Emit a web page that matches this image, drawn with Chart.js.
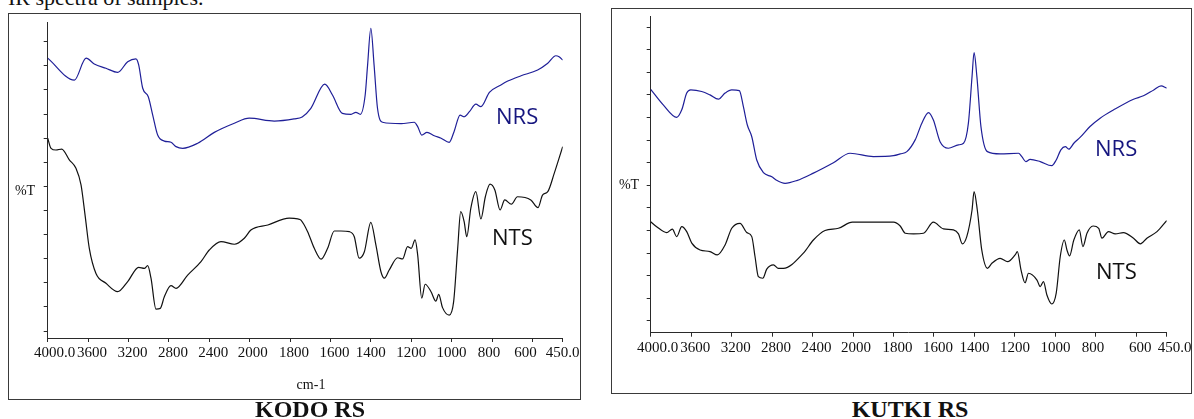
<!DOCTYPE html>
<html>
<head>
<meta charset="utf-8">
<title>IR spectra of samples</title>
<script src="https://cdn.jsdelivr.net/npm/chart.js@4.4.1/dist/chart.umd.min.js"></script>
<style>
  html, body { margin: 0; padding: 0; background: #fff; }
  body { position: relative; width: 1194px; height: 419px; overflow: hidden;
         font-family: "Liberation Serif", "Times New Roman", serif; color: #111; }
  .frame { position: absolute; box-sizing: border-box; border: 1px solid #3a3a3a; }
  canvas { position: absolute; }
  .lbl { position: absolute; white-space: nowrap; }
  .series { font-family: "Open Sans", sans-serif; font-size: 22px; line-height: 22px; }
  .pct { font-size: 14px; line-height: 14px; transform: translate(-50%, -50%); }
  .caption { font-weight: bold; font-size: 24px; line-height: 24px; transform: translateX(-50%); }
</style>
</head>
<body>
<div class="lbl" style="left:8px; top:-13px; font-size:22px; line-height:22px;">IR spectra of samples.</div>

<div class="frame" style="left:8px; top:13px; width:573px; height:387px;"></div>
<div class="frame" style="left:611px; top:8px; width:581px; height:386px;"></div>

<canvas id="kodo" width="581" height="385" style="left:9px; top:14px;"></canvas>
<canvas id="kutki" width="582" height="384" style="left:612px; top:9px;"></canvas>

<div class="lbl pct" style="left:25px; top:191px;">%T</div>
<div class="lbl pct" style="left:629px; top:185px;">%T</div>
<div class="lbl pct" style="left:311px; top:385px;">cm-1</div>

<div class="lbl series" style="left:496px; top:104px; color:#16167f;">NRS</div>
<div class="lbl series" style="left:492px; top:225px; color:#111;">NTS</div>
<div class="lbl series" style="left:1095px; top:136px; color:#16167f;">NRS</div>
<div class="lbl series" style="left:1096px; top:259px; color:#111;">NTS</div>

<div class="lbl caption" style="left:310px; top:397px;">KODO RS</div>
<div class="lbl caption" style="left:910px; top:397px;">KUTKI RS</div>

<script>
// x axis, cm-1
const X_TICKS = [4000, 3600, 3200, 2800, 2400, 2000, 1800, 1600, 1400, 1200, 1000, 800, 600, 450];
const X_TICK_LABELS = ['4000.0', '3600', '3200', '2800', '2400', '2000', '1800', '1600', '1400', '1200', '1000', '800', '600', '450.0'];

// KODO RS, %T in arbitrary divisions
const KODO_NRS_WN = [4000, 3736, 3620, 3539, 3423, 3307, 3208, 3126, 3099, 3059,
  3004, 2960, 2911, 2845, 2779, 2729, 2663, 2515, 2350, 2152,
  2004, 1878, 1780, 1740, 1697, 1628, 1590, 1541, 1498, 1474,
  1452, 1428, 1416, 1400, 1384, 1367, 1342, 1250, 1185, 1168,
  1148, 1122, 1086, 1052, 1012, 988, 958, 938, 912, 880,
  855, 813, 756, 722, 656, 574, 524, 484, 468, 450];
const KODO_NRS_T = [11.32, 10.41, 11.32, 11.08, 10.90, 10.73, 11.17, 11.29, 11.04, 10.07,
  9.72, 8.96, 8.13, 7.88, 7.83, 7.65, 7.58, 7.79, 8.24, 8.62,
  8.83, 8.71, 8.80, 8.88, 9.24, 10.24, 9.79, 9.03, 8.99, 9.07,
  8.99, 9.79, 11.04, 12.56, 11.04, 9.24, 8.66, 8.60, 8.66, 8.48,
  8.13, 8.24, 8.10, 8.00, 7.83, 8.27, 8.96, 8.89, 9.10, 9.41,
  9.31, 9.90, 10.21, 10.37, 10.59, 10.83, 11.11, 11.42, 11.38, 11.24];

const KODO_NTS_WN = [4000, 3967, 3918, 3861, 3786, 3720, 3670, 3630, 3588, 3522,
  3423, 3307, 3208, 3099, 3043, 3010, 2977, 2928, 2885, 2845,
  2779, 2729, 2614, 2482, 2400, 2284, 2152, 2053, 1994, 1910,
  1804, 1762, 1746, 1713, 1680, 1646, 1614, 1581, 1548, 1506,
  1482, 1458, 1432, 1400, 1375, 1350, 1333, 1309, 1267, 1243,
  1218, 1200, 1181, 1168, 1148, 1131, 1102, 1078, 1064, 1045,
  1012, 990, 970, 955, 938, 925, 905, 880, 855, 833,
  810, 786, 760, 737, 704, 674, 608, 572, 550, 524,
  492, 450];
const KODO_NTS_T = [8.00, 7.58, 7.51, 7.55, 7.10, 6.75, 6.06, 4.81, 3.43, 2.39,
  1.98, 1.63, 2.05, 2.64, 2.60, 2.71, 2.19, 0.91, 0.94, 1.42,
  1.88, 1.77, 2.32, 2.88, 3.36, 3.71, 3.60, 3.85, 4.19, 4.40,
  4.68, 4.65, 4.60, 4.12, 3.43, 2.98, 3.43, 4.15, 4.15, 4.12,
  3.91, 3.02, 3.29, 4.51, 3.57, 2.46, 2.19, 2.53, 3.04, 2.99,
  3.50, 3.43, 3.78, 3.15, 1.36, 1.94, 1.63, 1.24, 1.52, 0.97,
  0.66, 1.22, 3.43, 4.95, 4.54, 3.91, 5.09, 5.78, 4.65, 5.57,
  6.09, 5.85, 5.02, 5.44, 5.26, 5.57, 5.44, 5.12, 5.64, 5.78,
  6.54, 7.65];

// KUTKI RS
const KUTKI_NRS_WN = [4000, 3876, 3743, 3693, 3644, 3604, 3496, 3414, 3331, 3265,
  3199, 3124, 3084, 3045, 3001, 2952, 2886, 2803, 2761, 2672,
  2557, 2392, 2194, 2029, 1900, 1800, 1767, 1734, 1693, 1660,
  1627, 1603, 1570, 1529, 1479, 1454, 1430, 1412, 1402, 1388,
  1368, 1336, 1273, 1182, 1166, 1146, 1125, 1075, 1018, 996,
  973, 951, 934, 909, 877, 829, 779, 712, 614, 565,
  514, 478, 450];
const KUTKI_NRS_T = [10.25, 9.56, 9.01, 9.34, 10.08, 10.22, 10.15, 10.00, 9.81, 10.08,
  10.22, 10.19, 9.48, 8.67, 8.15, 7.12, 6.56, 6.38, 6.24, 6.09,
  6.21, 6.54, 7.00, 7.42, 7.27, 7.31, 7.39, 7.49, 8.01, 8.75,
  9.22, 8.89, 7.93, 7.64, 7.79, 7.86, 8.75, 10.81, 11.87, 10.81,
  8.60, 7.49, 7.39, 7.42, 7.27, 7.05, 7.15, 7.05, 6.87, 7.12,
  7.57, 7.71, 7.60, 7.86, 8.13, 8.60, 8.97, 9.34, 9.81, 9.96,
  10.22, 10.40, 10.30];

const KUTKI_NTS_WN = [4000, 3941, 3842, 3786, 3743, 3693, 3644, 3594, 3512, 3414,
  3341, 3265, 3199, 3117, 3051, 3001, 2969, 2936, 2892, 2853,
  2787, 2738, 2689, 2491, 2392, 2277, 2145, 2007, 1800, 1767,
  1742, 1701, 1652, 1603, 1553, 1504, 1479, 1460, 1438, 1412,
  1402, 1386, 1364, 1336, 1314, 1273, 1236, 1199, 1188, 1170,
  1150, 1133, 1091, 1075, 1059, 1042, 1018, 996, 976, 956,
  943, 930, 909, 882, 864, 844, 814, 786, 770, 738,
  704, 664, 614, 580, 548, 498, 450];
const KUTKI_NTS_T = [4.39, 4.17, 3.91, 4.06, 3.73, 4.17, 3.95, 3.44, 3.14, 3.07,
  2.92, 3.36, 4.10, 4.32, 3.91, 3.73, 2.85, 1.96, 1.89, 2.29,
  2.48, 2.33, 2.33, 3.00, 3.58, 4.00, 4.10, 4.37, 4.37, 4.20,
  3.88, 3.85, 3.88, 4.37, 4.07, 4.03, 3.85, 3.41, 3.73, 4.91,
  5.72, 4.91, 3.14, 2.33, 2.55, 2.77, 2.62, 2.92, 3.07, 2.26,
  1.69, 2.11, 1.81, 1.52, 1.74, 1.15, 0.75, 1.23, 2.85, 3.58,
  3.14, 2.88, 3.58, 4.03, 3.29, 3.88, 4.20, 4.10, 3.66, 3.95,
  3.85, 3.91, 3.66, 3.41, 3.66, 3.95, 4.44];

const AXIS = '#2a2a2a';
const NRS_COLOR = '#1f1f98';
const NTS_COLOR = '#111111';

// the instrument does not centre its tick labels exactly; small sideways shifts, px
const LABEL_NUDGE = {
  kodo:  [7, 4, 4, 4, 4, 3, 4, 4, 0, 0, 0, -3, -7, 0],
  kutki: [7, 4, 4, 4, 4, 3, 4, 4, 0, 0, 0, -3, 4, 8]
};

// The instrument prints 400 cm-1 per division above 2000 and 200 cm-1 per division below.
function divisionsFrom4000(wn) {
  return wn >= 2000 ? (4000 - wn) / 400 : 5 + (2000 - wn) / 200;
}
function wavenumberAt(div) {
  return div <= 5 ? 4000 - div * 400 : 2000 - (div - 5) * 200;
}

class WavenumberScale extends Chart.LinearScale {
  static id = 'wavenumber';

  buildTicks() {
    return X_TICKS.map(value => ({ value }));
  }

  getPixelForValue(value) {
    const start = divisionsFrom4000(this.max);
    const span = divisionsFrom4000(this.min) - start;
    return this.getPixelForDecimal((divisionsFrom4000(value) - start) / span);
  }

  getValueForPixel(pixel) {
    const start = divisionsFrom4000(this.max);
    const span = divisionsFrom4000(this.min) - start;
    return wavenumberAt(start + this.getDecimalForPixel(pixel) * span);
  }

  _computeLabelItems(chartArea) {
    const items = super._computeLabelItems(chartArea);
    const nudge = LABEL_NUDGE[this.chart.canvas.id] || [];
    items.forEach((item, i) => {
      item.options.translation[0] += nudge[i] || 0;
    });
    return items;
  }
}
Chart.register(WavenumberScale);

function toPoints(wn, t) {
  return wn.map((w, i) => ({ x: w, y: t[i] }));
}

function spectrumChart(canvasId, series, frame) {
  return new Chart(document.getElementById(canvasId), {
    type: 'line',
    data: {
      datasets: series.map(s => ({
        label: s.label,
        data: toPoints(s.wn, s.t),
        borderColor: s.color,
        borderWidth: 1.2,
        pointRadius: 0,
        fill: false,
        cubicInterpolationMode: 'monotone'
      }))
    },
    options: {
      responsive: false,
      animation: false,
      events: [],
      layout: { padding: { left: 0, right: frame.padRight, top: frame.padTop, bottom: 0 } },
      plugins: { legend: { display: false }, tooltip: { enabled: false } },
      scales: {
        x: {
          type: 'wavenumber',
          min: 450,
          max: 4000,
          grid: { drawOnChartArea: false, drawTicks: true, tickLength: 4, color: AXIS },
          border: { color: AXIS, width: 1 },
          ticks: {
            autoSkip: false,
            maxRotation: 0,
            padding: 2,
            color: '#111',
            font: { family: 'Liberation Serif', size: 15 },
            callback: (value, i) => X_TICK_LABELS[i]
          },
          afterFit: scale => { scale.height = frame.xAxisHeight; }
        },
        y: {
          min: frame.yMin,
          max: frame.yMax,
          grid: { drawOnChartArea: false, drawTicks: true, tickLength: 4, color: AXIS },
          border: { color: AXIS, width: 1 },
          ticks: { display: false, stepSize: 1, includeBounds: false },
          afterFit: scale => { scale.width = 38.7; }
        }
      }
    }
  });
}

spectrumChart('kodo', [
  { label: 'NRS', wn: KODO_NRS_WN, t: KODO_NRS_T, color: NRS_COLOR },
  { label: 'NTS', wn: KODO_NTS_WN, t: KODO_NTS_T, color: NTS_COLOR }
], { padRight: 27.3, padTop: 8, xAxisHeight: 61, yMin: -0.29, yMax: 12.82 });

spectrumChart('kutki', [
  { label: 'NRS', wn: KUTKI_NRS_WN, t: KUTKI_NRS_T, color: NRS_COLOR },
  { label: 'NTS', wn: KUTKI_NTS_WN, t: KUTKI_NTS_T, color: NTS_COLOR }
], { padRight: 27.3, padTop: 7.7, xAxisHeight: 60.3, yMin: -0.52, yMax: 13.46 });
</script>
</body>
</html>
